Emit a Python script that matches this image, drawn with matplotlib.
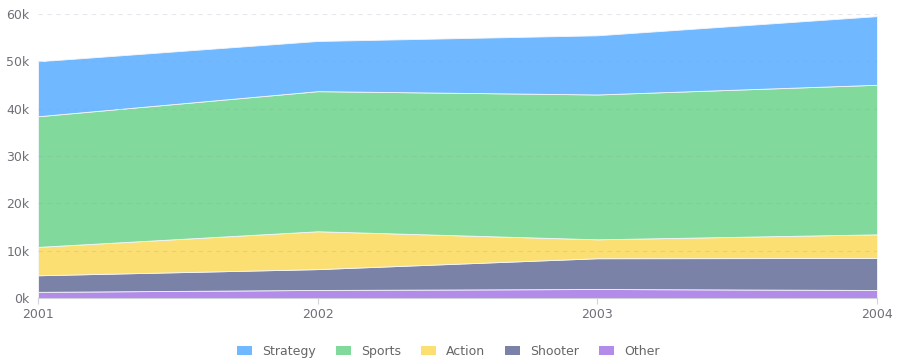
import matplotlib.pyplot as plt
from matplotlib.patches import Patch
from matplotlib.ticker import FuncFormatter

years = [2001, 2002, 2003, 2004]
other = [1300, 1700, 1900, 1700]
shooter = [3500, 4400, 6500, 6750]
action = [6000, 8000, 4000, 5000]
sports = [27600, 29600, 30600, 31600]
strategy = [11600, 10600, 12500, 14500]

labels = ["Other", "Shooter", "Action", "Sports", "Strategy"]
colors = ["#b38be8", "#7a82a8", "#fcdf72", "#82d99c", "#70b8ff"]

fig = plt.figure(figsize=(8.97, 3.64), dpi=100)
ax = fig.add_axes([0.0424, 0.1813, 0.9353, 0.7802])

ax.stackplot(years, other, shooter, action, sports, strategy,
             colors=colors, linewidth=0.6, edgecolor="#f4f6fa", alpha=1.0)

ax.set_xlim(2001, 2004)
ax.set_ylim(0, 60000)
ax.set_xticks(years)
ax.set_xticklabels([str(y) for y in years])
ax.set_yticks(range(0, 60001, 10000))
ax.yaxis.set_major_formatter(FuncFormatter(lambda v, p: f"{int(v / 1000)}k"))

# faint dashed grid drawn over the areas
ax.grid(axis="y", color="#9aa3b5", alpha=0.25, linestyle=(0, (4, 4)), linewidth=0.8)
ax.set_axisbelow(False)
for s in ["top", "right", "left"]:
    ax.spines[s].set_visible(False)
ax.spines["bottom"].set_color("#d0d3da")
ax.tick_params(axis="y", length=0, colors="#6e7079", labelsize=9, pad=6)
ax.tick_params(axis="x", length=4, color="#d0d3da", colors="#6e7079", labelsize=9, pad=3)

handles = [Patch(facecolor=c, edgecolor="none") for c in colors[::-1]]
fig.legend(handles, labels[::-1], loc="center", bbox_to_anchor=(0.5, 0.035),
           ncol=5, frameon=False, fontsize=9, handlelength=1.2, handleheight=0.8,
           columnspacing=1.6, handletextpad=0.8, labelcolor="#666666")

plt.savefig("out.png", dpi=100)
